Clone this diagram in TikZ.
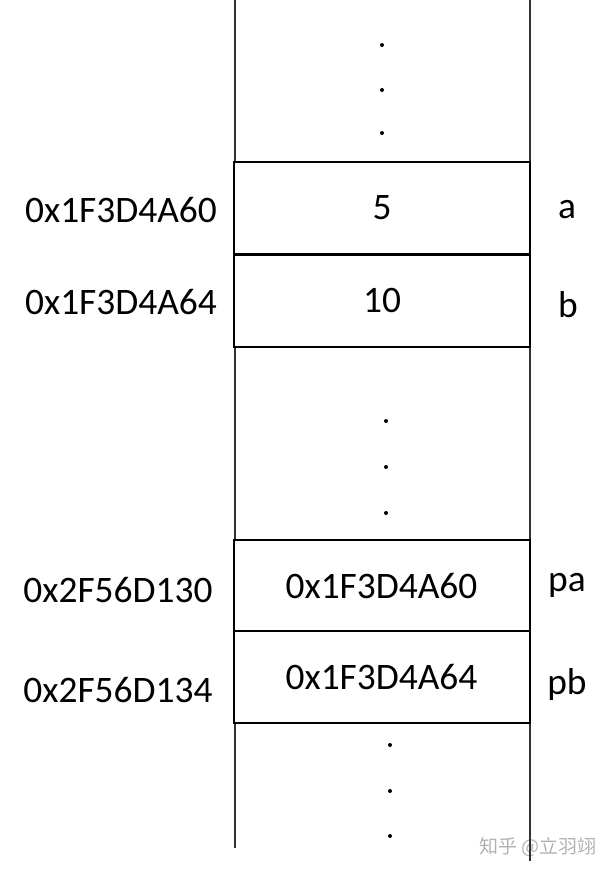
\documentclass[tikz,border=0pt]{standalone}
\usepackage{fontspec}
\setmainfont{Carlito}
\newfontfamily\cjk{Noto Sans CJK SC}
\usepackage{tikz}
\usetikzlibrary{calc}

\tikzset{
	cell/.style={draw, line width=1pt, minimum width=148pt, minimum height=46pt, inner sep=0pt},
	addr/.style={inner sep=0pt},
	var/.style={inner sep=0pt},
	rail/.style={line width=0.8pt, black!80}
}

\begin{document}
\begin{tikzpicture}[x=0.5pt,y=-0.5pt,font=\fontsize{18.7}{22}\selectfont]
	\useasboundingbox (0,0) rectangle (611,874);

	% watermark
	\node[inner sep=0pt, text=black!30, font=\cjk\fontsize{9.5}{11}\selectfont] (mark) at (538,847) {知乎 @立羽翊};

	% memory column
	\coordinate (lt) at (235,0);
	\coordinate (lb) at (235,848);
	\coordinate (rt) at (530,0);
	\coordinate (rb) at (530,861);
	\draw[rail] (lt) -- (lb);
	\draw[rail] (rt) -- (rb);

	\node[cell, fill=white] (ca) at (382,208) {5};
	\node[cell, fill=white] (cb) at (382,300.5) {10};
	\node[cell, fill=white] (cpa) at (381.5,585.5) {0x1F3D4A60};
	\node[cell, fill=white] (cpb) at (381.5,677) {0x1F3D4A64};

	\foreach \y in {45,90,133}
		\fill (382,\y) circle (2);
	\foreach \y in {421,467,513}
		\fill (386,\y) circle (2);
	\foreach \y in {745,791,836}
		\fill (390,\y) circle (2);

	\node[addr] (aa) at (121,210) {0x1F3D4A60};
	\node[addr] (ab) at (121,302) {0x1F3D4A64};
	\node[addr] (apa) at (118,590) {0x2F56D130};
	\node[addr] (apb) at (118,690) {0x2F56D134};

	\node[var] (va) at (567,210) {a};
	\node[var] (vb) at (568,305) {b};
	\node[var] (vpa) at (567,585) {pa};
	\node[var] (vpb) at (567,685) {pb};
\end{tikzpicture}
\end{document}
